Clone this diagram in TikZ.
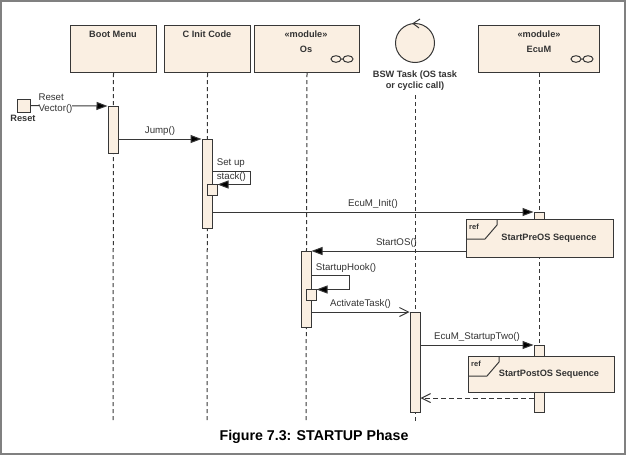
\documentclass[tikz,border=0pt]{standalone}
\usepackage{fontspec}
\setmainfont{Liberation Sans}
\usetikzlibrary{arrows.meta}
\definecolor{umlfill}{RGB}{250,239,226}
\definecolor{umlline}{RGB}{55,55,55}

\begin{document}
\begin{tikzpicture}
  [x=1pt,y=-1pt,line width=1pt,
   every node/.style={font=\fontsize{9.7}{11}\selectfont,text=black!80},
   head/.style={draw=umlline,fill=umlfill,minimum height=47pt,anchor=north west,inner sep=0pt},
   headtext/.style={font=\bfseries\fontsize{9.2}{11}\selectfont},
   act/.style={draw=umlline,fill=umlfill,minimum width=10pt,anchor=north,inner sep=0pt},
   refbox/.style={draw=umlline,fill=umlfill,anchor=north west,inner sep=0pt},
   life/.style={draw=umlline,dash pattern=on 4pt off 3pt},
   sync/.style={draw=umlline,-{Triangle[length=11pt,width=8pt,fill=black]}},
   async/.style={draw=umlline,-{Straight Barb[length=9pt,width=9pt]}},
   reply/.style={async,dash pattern=on 5pt off 3pt}]
  \useasboundingbox (0,0) rectangle (628,456);
  \draw[gray,line width=2pt] (1,1) rectangle (625,454);

  % lifeline heads
  \node[head,minimum width=86pt] (boot) at (70,25) {};
  \node[head,minimum width=86pt] (init) at (164,25) {};
  \node[head,minimum width=105pt] (os) at (254,25) {};
  \node[head,minimum width=121pt] (ecum) at (478,25) {};
  \node[draw=umlline,fill=umlfill,circle,minimum size=39pt] (bsw) at (415,43) {};
  \draw[umlline] (420,19) -- (413,23.5) -- (419,28);
  \node[headtext] (boottxt) at (113,34) {Boot Menu};
  \node[headtext] (inittxt) at (207,34) {C Init Code};
  \node[headtext] (osst) at (306,34) {«module»};
  \node[headtext] (ostxt) at (306,49) {Os};
  \node[headtext] (ecumst) at (539,34) {«module»};
  \node[headtext] (ecumtxt) at (539,49) {EcuM};
  \node[headtext,align=center] (bswtxt) at (415,81) {BSW Task (OS task\\or cyclic call)};
  \foreach \cx in {336,576}
    \draw[umlline] (\cx,59) ellipse (5 and 3.3) (\cx+5,59) -- (\cx+7,59)
      (\cx+12,59) ellipse (5 and 3.3);

  % lifelines
  \coordinate (bootend) at (113,421);
  \coordinate (initend) at (207,421);
  \coordinate (osend) at (306,422);
  \coordinate (bswend) at (415,423);
  \coordinate (ecumend) at (539,412);
  \draw[life] (boot.south) -- (bootend);
  \draw[life] (init.south) -- (initend);
  \draw[life] (os.south) -- (osend);
  \draw[life] (415,95) -- (bswend);
  \draw[life] (ecum.south -| ecumend) -- (ecumend);

  % activations
  \node[act,minimum height=47pt] (bootact) at (113,106) {};
  \node[act,minimum height=89pt] (initact) at (207,139) {};
  \node[act,minimum height=11pt] (stackact) at (212,184) {};
  \node[act,minimum height=28pt] (ecuact1) at (539,212) {};
  \node[act,minimum height=76pt] (osact) at (306,251) {};
  \node[act,minimum height=11pt] (hookact) at (311,289) {};
  \node[act,minimum height=100pt] (bswact) at (415,312) {};
  \node[act,minimum height=67pt] (ecuact2) at (539,345) {};

  % reset
  \node[draw=umlline,fill=umlfill,minimum size=13pt,inner sep=0pt] (reset) at (23.5,105.5) {};
  \node[headtext] (resettxt) at (23,118) {Reset};
  \draw[sync] (reset.east) -- (bootact.north west);
  \node[fill=white,align=left,inner sep=0pt,anchor=west] (resetlbl) at (38,104) {Reset\\Vector()};

  % messages
  \draw[sync] (bootact.east |- initact.north) -- (initact.north west)
    node[midway,above] (jumplbl) {Jump()};
  \coordinate (stackturn) at (250,184.5);
  \draw[sync] (initact.east |- 0,171) -| (stackturn) -- (stackturn -| stackact.east);
  \node[anchor=west] (setuplbl) at (213,163) {Set up};
  \node[anchor=west] (stacklbl) at (213,177) {stack()};
  \draw[sync] (initact.east |- ecuact1.north) -- (ecuact1.north west)
    node[pos=.5,above] (initlbl) {EcuM\_Init()};

  \node[refbox,minimum width=147pt,minimum height=38pt] (preos) at (466,219) {};
  \draw[umlline] (preos.north west) ++(0,20) -- ++(19,0) -- ++(12,-14) -- ++(0,-6);
  \node[font=\bfseries\fontsize{7.5}{8}\selectfont] (preref) at (474,226.5) {ref};
  \node[headtext] (pretxt) at (549,238) {StartPreOS Sequence};

  \draw[sync] (preos.west |- osact.north) -- (osact.north east)
    node[pos=.45,above] (startlbl) {StartOS()};
  \coordinate (hookturn) at (349,289.5);
  \draw[sync] (osact.east |- 0,275) -| (hookturn) -- (hookturn -| hookact.east);
  \node[anchor=west] (hooklbl) at (312,268) {StartupHook()};
  \draw[async] (osact.east |- bswact.north) -- (bswact.north west)
    node[midway,above] (activlbl) {ActivateTask()};
  \draw[sync] (bswact.east |- ecuact2.north) -- (ecuact2.north west)
    node[midway,above] (twolbl) {EcuM\_StartupTwo()};

  \node[refbox,minimum width=146pt,minimum height=36pt] (postos) at (468,356) {};
  \draw[umlline] (postos.north west) ++(0,20) -- ++(19,0) -- ++(12,-14) -- ++(0,-6);
  \node[font=\bfseries\fontsize{7.5}{8}\selectfont] (postref) at (476,363.5) {ref};
  \node[headtext] (posttxt) at (549,374) {StartPostOS Sequence};
  \coordinate (retlevel) at (0,398);
  \draw[reply] (ecuact2.west |- retlevel) -- (bswact.east |- retlevel);

  \node[font=\bfseries\fontsize{14.2}{16}\selectfont,text=black] (caption) at (314,437)
    {Figure 7.3: STARTUP Phase};
\end{tikzpicture}
\end{document}
